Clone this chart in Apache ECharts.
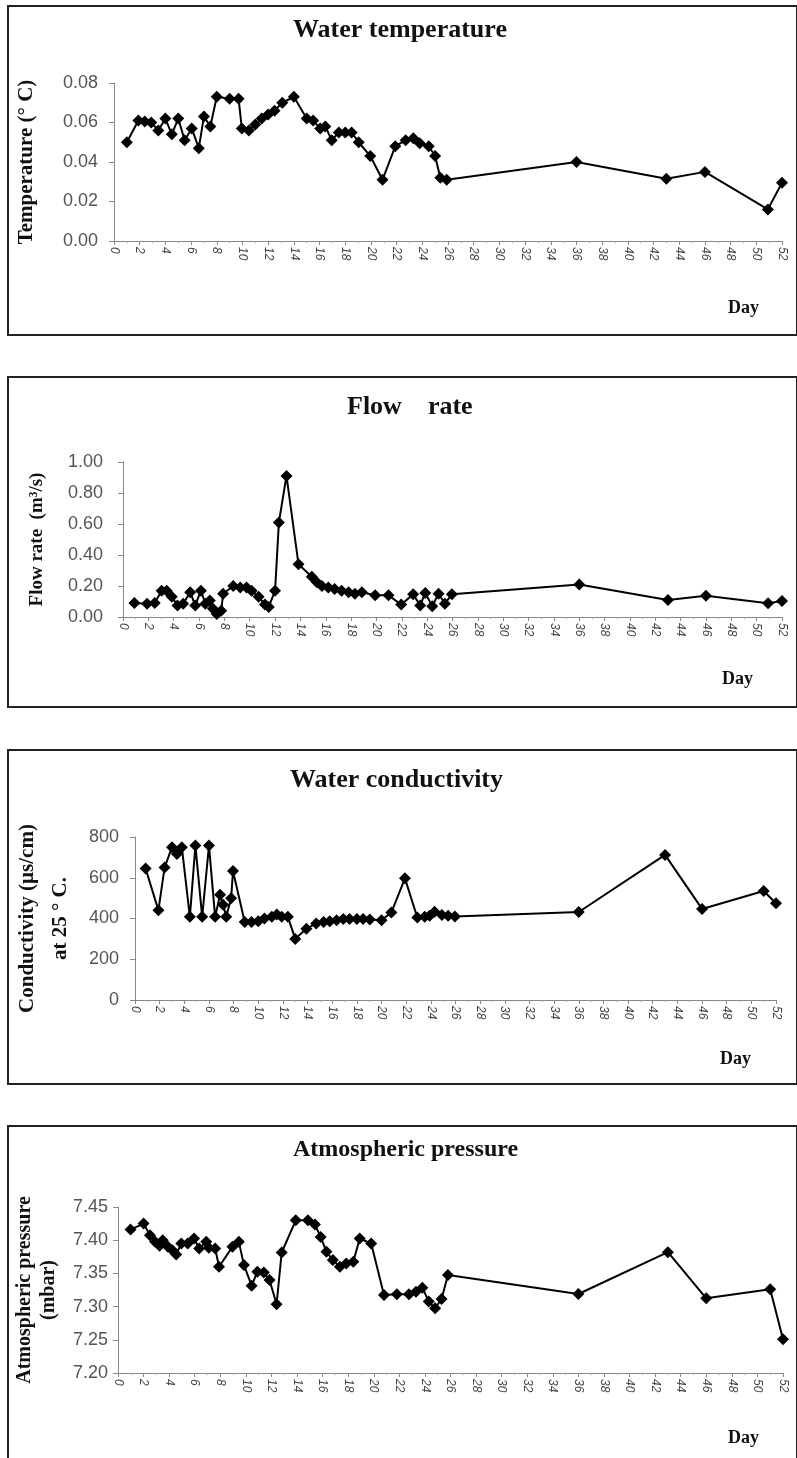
<!DOCTYPE html>
<html>
<head>
<meta charset="utf-8">
<script src="https://cdn.jsdelivr.net/npm/echarts@6/dist/echarts.min.js"></script>
<style>
  body { margin: 0; background: #fff; width: 797px; height: 1458px; position: relative; overflow: hidden; }
  .panel { position: absolute; left: 7px; width: 787px; border: 2px solid #222; background: #fff; }
</style>
</head>
<body>
<div class="panel" id="p1" style="top:5px;height:327px"></div>
<div class="panel" id="p2" style="top:376px;height:328px"></div>
<div class="panel" id="p3" style="top:749px;height:332px"></div>
<div class="panel" id="p4" style="top:1125px;height:340px"></div>
<script>
// day ticks shared by all panels
var dayMin = 0
var dayMax = 52
var dayStep = 2

var tempDays = [1, 1.9, 2.4, 2.9, 3.45, 4, 4.5, 5, 5.5, 6.05, 6.6, 7, 7.5, 8, 9, 9.7, 9.95, 10.5, 11, 11.5, 12, 12.5, 13.1, 14, 15, 15.5, 16.05, 16.45, 16.95, 17.5, 18, 18.5, 19.05, 19.95, 20.9, 21.9, 22.7, 23.3, 23.8, 24.5, 25, 25.4, 25.9, 36, 43, 46, 50.9, 52]
var tempValues = [0.050, 0.061, 0.0605, 0.060, 0.056, 0.062, 0.054, 0.062, 0.051, 0.057, 0.047, 0.063, 0.058, 0.073, 0.072, 0.072, 0.057, 0.056, 0.059, 0.062, 0.064, 0.066, 0.070, 0.073, 0.062, 0.061, 0.057, 0.058, 0.051, 0.055, 0.055, 0.055, 0.050, 0.043, 0.031, 0.048, 0.051, 0.052, 0.0495, 0.048, 0.043, 0.032, 0.031, 0.040, 0.0315, 0.035, 0.016, 0.0295]

var flowDays = [0.9, 1.9, 2.5, 3.05, 3.45, 3.85, 4.3, 4.75, 5.3, 5.7, 6.15, 6.5, 6.85, 7.1, 7.4, 7.75, 7.9, 8.7, 9.25, 9.75, 10.15, 10.7, 11.2, 11.5, 12, 12.3, 12.9, 13.85, 14.9, 15.3, 15.7, 16.2, 16.7, 17.25, 17.8, 18.3, 18.85, 19.9, 20.95, 21.95, 22.9, 23.45, 23.85, 24.4, 24.9, 25.4, 25.95, 36, 43, 46, 50.9, 52]
var flowValues = [0.09, 0.085, 0.09, 0.17, 0.17, 0.13, 0.075, 0.086, 0.16, 0.075, 0.17, 0.086, 0.107, 0.054, 0.02, 0.04, 0.15, 0.20, 0.19, 0.19, 0.17, 0.13, 0.08, 0.065, 0.17, 0.61, 0.91, 0.34, 0.26, 0.225, 0.20, 0.19, 0.18, 0.17, 0.16, 0.15, 0.16, 0.14, 0.14, 0.08, 0.146, 0.075, 0.155, 0.07, 0.15, 0.086, 0.146, 0.21, 0.11, 0.137, 0.088, 0.103]

var condDays = [0.86, 1.9, 2.4, 3, 3.4, 3.8, 4.45, 4.9, 5.45, 6, 6.5, 6.9, 7.15, 7.4, 7.8, 7.95, 8.9, 9.45, 10, 10.5, 11.1, 11.5, 11.9, 12.4, 13, 13.9, 14.7, 15.3, 15.8, 16.35, 16.9, 17.4, 18, 18.5, 19.05, 20, 20.8, 21.9, 22.9, 23.5, 23.9, 24.3, 24.9, 25.4, 25.95, 36, 43, 46, 51, 52]
var condValues = [645, 440, 650, 750, 717, 750, 408, 758, 408, 758, 408, 517, 467, 408, 500, 633, 383, 383, 387, 400, 408, 420, 408, 408, 300, 350, 375, 383, 387, 392, 397, 397, 397, 397, 395, 392, 430, 597, 405, 408, 413, 433, 417, 413, 410, 432, 712, 447, 535, 475]

var presDays = [0.98, 2, 2.5, 2.9, 3.25, 3.5, 3.9, 4.25, 4.55, 4.95, 5.45, 5.95, 6.35, 6.9, 7.1, 7.6, 7.9, 8.95, 9.45, 9.85, 10.45, 10.9, 11.4, 11.85, 12.4, 12.8, 13.9, 14.85, 15.4, 15.85, 16.3, 16.8, 17.35, 17.85, 18.4, 18.9, 19.8, 20.8, 21.8, 22.75, 23.3, 23.8, 24.3, 24.8, 25.3, 25.8, 36, 43, 46, 51, 52]
var presValues = [7.416, 7.425, 7.4075, 7.3975, 7.3915, 7.40, 7.39, 7.385, 7.3785, 7.395, 7.395, 7.4025, 7.3875, 7.3975, 7.3885, 7.3875, 7.36, 7.39, 7.3975, 7.3625, 7.3315, 7.3525, 7.3515, 7.34, 7.3035, 7.3815, 7.43, 7.43, 7.4235, 7.405, 7.3825, 7.37, 7.36, 7.365, 7.3675, 7.4025, 7.395, 7.3175, 7.3185, 7.3185, 7.3225, 7.3285, 7.3075, 7.2975, 7.3115, 7.3475, 7.319, 7.382, 7.3125, 7.326, 7.251]

function zip(xs, ys) {
  return xs.map(function(x, i) { return [x, ys[i]] })
}

function buildPanel(id, cfg) {
  var chart = echarts.init(document.getElementById(id))
  var option = {
    animation: false,
    grid: {
      left: cfg.left, right: cfg.right, top: cfg.top, height: cfg.height,
      containLabel: false, outerBoundsMode: 'none'
    },
    graphic: [
      {
        type: 'text', left: cfg.titleX, top: cfg.titleY,
        style: { text: cfg.title, font: 'bold ' + cfg.titleSize + 'px "Liberation Serif"', fill: '#111', letterSpacing: cfg.titleSpacing }
      },
      {
        type: 'text', left: cfg.dayX, top: cfg.dayY,
        style: { text: 'Day', font: 'bold 18px "Liberation Serif"', fill: '#111' }
      }
    ],
    xAxis: {
      type: 'value', min: dayMin, max: dayMax, interval: dayStep,
      axisLine: { lineStyle: { color: '#888', width: 1 } },
      axisTick: { length: 4, lineStyle: { color: '#888' } },
      minorTick: { show: true, splitNumber: 2, length: 2, lineStyle: { color: '#aaa' } },
      splitLine: { show: false },
      axisLabel: { rotate: -90, fontSize: 12, color: '#444', fontFamily: 'Liberation Sans', fontStyle: 'italic', margin: 6 }
    },
    yAxis: {
      type: 'value', min: cfg.yMin, max: cfg.yMax, interval: cfg.yStep,
      name: cfg.yName, nameLocation: 'middle', nameGap: cfg.nameGap, nameRotate: 90,
      nameTextStyle: { fontFamily: 'Liberation Serif', fontWeight: 'bold', fontSize: cfg.nameSize, color: '#111', lineHeight: cfg.nameLine },
      axisLine: { show: true, lineStyle: { color: '#888', width: 1 } },
      axisTick: { show: true, length: 5, lineStyle: { color: '#888' } },
      splitLine: { show: false },
      axisLabel: {
        fontSize: 18, color: '#555', fontFamily: 'Liberation Sans', margin: cfg.labelGap,
        formatter: function(v) { return cfg.digits >= 0 ? v.toFixed(cfg.digits) : String(v) }
      }
    },
    series: [{
      type: 'line',
      data: zip(cfg.days, cfg.values),
      symbol: 'diamond', symbolSize: 12,
      itemStyle: { color: '#000' },
      lineStyle: { color: '#000', width: 2 }
    }]
  }
  chart.setOption(option)
}

buildPanel('p1', {
  left: 105, right: 14, top: 76, height: 158,
  title: 'Water temperature', titleX: 284, titleY: 10, titleSize: 26, titleSpacing: 1,
  dayX: 719, dayY: 292,
  yMin: 0, yMax: 0.08, yStep: 0.02, digits: 2, labelGap: 16,
  yName: 'Temperature (° C)', nameGap: 75, nameSize: 21, nameLine: 24,
  days: tempDays, values: tempValues
})
buildPanel('p2', {
  left: 114, right: 14, top: 84, height: 155,
  title: 'Flow    rate', titleX: 338, titleY: 16, titleSize: 26, titleSpacing: 0,
  dayX: 713, dayY: 292,
  yMin: 0, yMax: 1, yStep: 0.2, digits: 2, labelGap: 20,
  yName: 'Flow rate  (m³/s)', nameGap: 75, nameSize: 19, nameLine: 22,
  days: flowDays, values: flowValues
})
buildPanel('p3', {
  left: 126, right: 20, top: 86, height: 163,
  title: 'Water conductivity', titleX: 281, titleY: 16, titleSize: 26, titleSpacing: 1,
  dayX: 711, dayY: 299,
  yMin: 0, yMax: 800, yStep: 200, digits: -1, labelGap: 16,
  yName: 'Conductivity (µs/cm)\nat 25 ° C.', nameGap: 58, nameSize: 21, nameLine: 33,
  days: condDays, values: condValues
})
buildPanel('p4', {
  left: 109, right: 13, top: 80, height: 166,
  title: 'Atmospheric pressure', titleX: 284, titleY: 11, titleSize: 24, titleSpacing: 0,
  dayX: 719, dayY: 302,
  yMin: 7.2, yMax: 7.45, yStep: 0.05, digits: 2, labelGap: 10,
  yName: 'Atmospheric pressure\n(mbar)', nameGap: 57, nameSize: 20, nameLine: 24,
  days: presDays, values: presValues
})
</script>
</body>
</html>
